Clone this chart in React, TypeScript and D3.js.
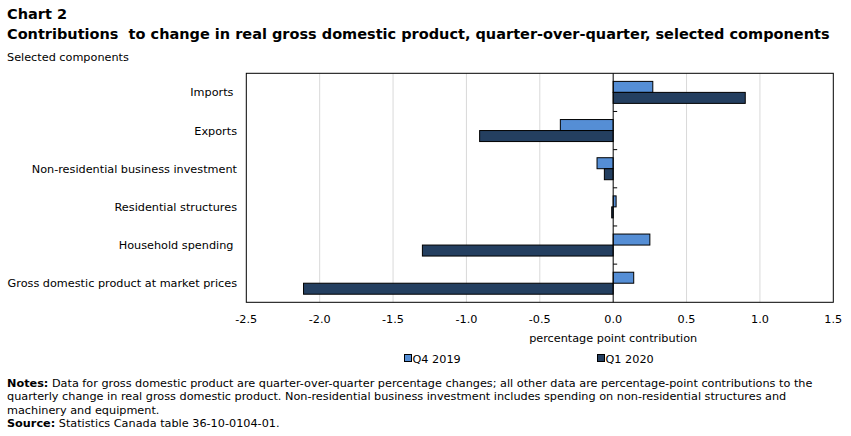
import React from "react";
import * as d3 from "d3";

const categories = [
  "Imports ",
  "Exports",
  "Non-residential business investment",
  "Residential structures",
  "Household spending ",
  "Gross domestic product at market prices",
];
const seriesNames = ["Q4 2019", "Q1 2020"];
const q4_2019 = [0.27, -0.36, -0.11, 0.02, 0.25, 0.14];
const q1_2020 = [0.9, -0.91, -0.06, -0.01, -1.3, -2.11];
const xTicks = [-2.5, -2.0, -1.5, -1.0, -0.5, 0.0, 0.5, 1.0, 1.5];
const colors = ["#558ed5", "#243f60"];

const noteLines = [
  ["Notes:", " Data for gross domestic product are quarter-over-quarter percentage changes; all other data are percentage-point contributions to the"],
  ["", "quarterly change in real gross domestic product. Non-residential business investment includes spending on non-residential structures and"],
  ["", "machinery and equipment."],
  ["Source:", " Statistics Canada table 36-10-0104-01."],
];

const FONT = "DejaVu Sans, Verdana, sans-serif";
const FS = 11.25;

export default function App() {
  const W = 851, H = 436;
  const left = 246.3, right = 833.3, top = 73.3, bottom = 302.3;
  const x = d3.scaleLinear().domain([-2.5, 1.5]).range([left, right]);
  const y = d3.scaleBand<string>().domain(categories).range([top, bottom]);
  const bw = y.bandwidth();
  const barH = 11;
  const pad = (bw - 2 * barH) / 2;
  const series = [q4_2019, q1_2020];
  const x0 = x(0);
  const fmt = (t: number) => d3.format(".1f")(t).replace("\u2212", "-");

  return (
    <svg width={W} height={H} style={{ position: "absolute", left: 0, top: 0, fontFamily: FONT }}>
      <rect x={0} y={0} width={W} height={H} fill="#fff" />
      <text x={7} y={19} fontSize={14.5} fontWeight="bold" fill="#000">Chart 2</text>
      <text x={7} y={39} fontSize={14.5} fontWeight="bold" fill="#000" style={{ whiteSpace: "pre" }}>
        Contributions  to change in real gross domestic product, quarter-over-quarter, selected components
      </text>
      <text x={7} y={61} fontSize={FS} fill="#000">Selected components</text>

      {xTicks.filter((t) => t !== 0 && t !== -2.5 && t !== 1.5).map((t) => (
        <line key={t} x1={x(t)} x2={x(t)} y1={top} y2={bottom} stroke="#d9d9d9" strokeWidth={1} />
      ))}

      {categories.map((c, i) =>
        series.map((s, j) => {
          const v = s[i];
          const xa = Math.min(x(v), x0);
          const w = Math.abs(x(v) - x0);
          return (
            <rect
              key={c + j}
              x={xa}
              y={(y(c) as number) + pad + j * barH}
              width={w}
              height={barH}
              fill={colors[j]}
              stroke="#000"
              strokeWidth={1}
            />
          );
        })
      )}

      <line x1={x0} x2={x0} y1={top} y2={bottom} stroke="#000" strokeWidth={1} />
      {categories.slice(1).map((c) => (
        <line key={c} x1={x0} x2={x0 + 4} y1={y(c) as number} y2={y(c) as number} stroke="#000" strokeWidth={1} />
      ))}
      <rect x={left} y={top} width={right - left} height={bottom - top} fill="none" stroke="#000" strokeWidth={1} />

      {categories.map((c) => (
        <text key={c} x={237} y={(y(c) as number) + bw / 2 + 4} fontSize={FS} textAnchor="end" fill="#000" style={{ whiteSpace: "pre" }}>
          {c}
        </text>
      ))}

      {xTicks.map((t) => (
        <text key={t} x={x(t)} y={323} fontSize={FS} textAnchor="middle" fill="#000">
          {fmt(t)}
        </text>
      ))}
      <text x={x0} y={342} fontSize={FS} textAnchor="middle" fill="#000">percentage point contribution</text>

      {seriesNames.map((n, j) => {
        const lx = j === 0 ? 404 : 597;
        return (
          <g key={n}>
            <rect x={lx + 0.5} y={354.5} width={7} height={7} fill={colors[j]} stroke="#000" strokeWidth={1} />
            <text x={lx + 8.5} y={363} fontSize={FS} fill="#000">{n}</text>
          </g>
        );
      })}

      {noteLines.map((l, i) => (
        <text key={i} x={7} y={387 + i * 13.3} fontSize={FS} fill="#000" style={{ whiteSpace: "pre" }}>
          {l[0] && <tspan fontWeight="bold">{l[0]}</tspan>}
          <tspan>{l[1]}</tspan>
        </text>
      ))}
    </svg>
  );
}
